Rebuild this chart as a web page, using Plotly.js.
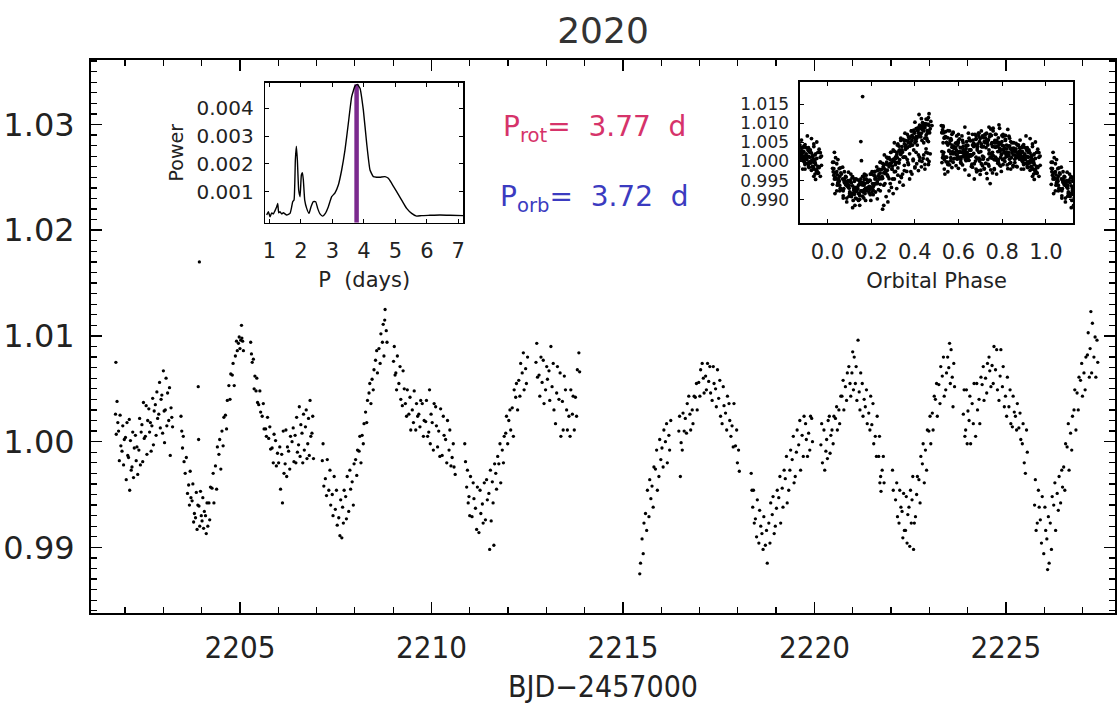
<!DOCTYPE html>
<html>
<head>
<meta charset="utf-8">
<script src="https://cdn.plot.ly/plotly-3.0.1.min.js"></script>
<style>html,body{margin:0;padding:0;background:#fff;}#chart{width:1117px;height:704px;}</style>
</head>
<body>
<div id="chart"></div>
<script>
// ---------- Light curve, before the mid-sector gap ----------
const segATime = [
2201.76,
2201.75,2201.77,2201.79,2201.81,
2201.83,2201.85,2201.87,2201.89,
2201.92,2201.94,2201.96,2201.98,
2202.01,2202.03,2202.05,2202.07,
2202.09,2202.11,2202.12,2202.14,2202.16,
2202.18,2202.20,2202.22,2202.24,
2202.27,2202.29,2202.31,2202.33,
2202.36,2202.38,2202.40,2202.42,
2202.44,2202.46,2202.48,2202.50,
2202.53,2202.55,2202.57,2202.59,
2202.62,2202.64,2202.66,2202.68,
2202.70,2202.72,2202.74,2202.76,
2202.79,2202.81,2202.83,2202.85,
2202.88,2202.90,2202.92,2202.94,
2202.96,2202.98,2203.00,2203.02,2203.03,
2203.05,2203.07,2203.09,2203.11,
2203.14,2203.16,2203.18,2203.20,
2203.22,2203.24,
2203.46,2203.48,
2203.50,2203.52,2203.54,
2203.57,2203.60,2203.63,
2203.66,2203.68,2203.70,2203.72,
2203.75,2203.77,2203.79,2203.81,
2203.84,2203.86,2203.88,2203.90,2203.91,2203.92,2203.94,
2203.93,2203.95,2203.97,2203.99,
2204.01,2204.03,2204.05,2204.07,
2204.10,2204.12,2204.14,2204.16,
2204.19,2204.21,2204.23,
2204.27,2204.30,2204.32,
2204.36,2204.39,2204.41,
2204.45,2204.47,2204.50,
2204.53,2204.56,2204.58,
2204.62,2204.65,2204.67,
2204.71,2204.74,2204.76,
2204.80,2204.82,2204.85,
2204.88,2204.91,2204.93,
2204.96,2204.98,2205.00,2205.02,
2205.04,2205.05,2205.07,2205.09,
2205.28,2205.30,2205.32,
2205.35,2205.37,2205.39,
2205.42,2205.44,2205.46,
2205.49,2205.52,2205.54,
2205.58,2205.61,2205.63,
2205.67,2205.69,2205.72,
2205.75,2205.78,2205.80,
2205.84,2205.87,2205.89,
2205.93,2205.95,2205.98,
2206.01,2206.04,2206.06,
2206.09,2206.11,2206.13,2206.15,
2206.18,2206.20,2206.22,2206.24,
2206.27,2206.30,2206.32,
2206.36,2206.39,2206.41,
2206.44,2206.46,2206.48,2206.50,
2206.53,2206.55,2206.57,2206.59,
2206.62,2206.64,2206.66,2206.68,
2206.71,2206.73,2206.75,2206.77,
2206.79,2206.81,2206.83,2206.85,
2206.88,2206.90,2206.92,
2207.15,2207.17,2207.19,
2207.23,2207.26,2207.28,
2207.32,2207.35,2207.37,
2207.41,2207.43,2207.46,
2207.49,2207.52,2207.54,
2207.58,2207.61,2207.63,
2207.66,2207.68,2207.70,2207.72,
2207.76,2207.78,2207.80,
2207.84,2207.87,2207.89,
2207.93,2207.96,2207.98,
2208.02,2208.05,2208.07,
2208.11,2208.13,2208.16,
2208.19,2208.22,2208.24,
2208.28,2208.31,2208.33,
2208.37,2208.39,2208.42,
2208.45,2208.48,2208.50,
2208.54,2208.57,2208.59,
2208.63,2208.66,2208.68,
2208.72,2208.74,2208.76,
2208.78,2208.79,
2208.82,2208.84,
2209.01,2209.03,2209.05,
2209.07,2209.09,2209.11,
2209.15,2209.18,2209.20,
2209.24,2209.26,2209.29,
2209.32,2209.35,2209.37,
2209.41,2209.44,2209.46,
2209.50,2209.53,2209.55,
2209.59,2209.61,2209.64,
2209.67,2209.70,2209.72,
2209.76,2209.79,2209.81,
2209.85,2209.87,2209.90,
2209.93,2209.95,2209.97,2209.99,
2210.02,2210.05,2210.07,
2210.11,2210.13,2210.16,
2210.19,2210.22,2210.24,
2210.28,2210.31,2210.33,
2210.37,2210.40,2210.42,
2210.46,2210.48,2210.51,
2210.54,2210.57,2210.59,
2210.62,
2210.87,2210.89,
2210.92,2210.94,2210.96,
2210.98,2211.00,2211.02,
2211.06,2211.09,2211.11,
2211.15,2211.18,2211.20,
2211.24,2211.27,2211.29,
2211.33,2211.35,2211.38,
2211.41,2211.44,2211.46,
2211.50,2211.52,2211.54,2211.56,
2211.59,2211.61,2211.63,2211.65,
2211.68,2211.70,2211.73,
2211.76,2211.79,2211.81,
2211.85,2211.88,2211.90,
2211.94,2211.96,2211.99,
2212.02,2212.05,2212.07,
2212.11,2212.14,2212.16,
2212.20,2212.22,2212.25,
2212.28,2212.31,2212.33,
2212.37,2212.40,2212.42,
2212.46,2212.48,2212.51,
2212.73,2212.75,2212.77,
2212.81,2212.83,2212.86,
2212.89,2212.92,2212.94,
2212.98,2213.01,2213.03,
2213.07,2213.09,2213.12,
2213.15,2213.18,2213.20,
2213.24,2213.27,2213.29,
2213.33,2213.36,2213.38,
2213.42,2213.44,2213.47,
2213.50,2213.53,2213.55,
2213.59,2213.62,2213.64,
2213.68,2213.70,2213.73,
2213.76,2213.79,2213.81,
2213.85,2213.87
];
const segAFlux = [
1.0075,
1.0026,1.0007,1.0038,1.0018,
1.0010,0.9982,1.0025,0.9996,
0.9991,1.0015,0.9978,1.0002,
1.0004,0.9964,1.0018,0.9987,
0.9985,1.0021,0.9954,1.0001,0.9973,
0.9976,1.0009,0.9966,0.9994,
1.0006,0.9982,0.9995,0.9969,
0.9992,1.0022,0.9978,1.0009,
1.0016,0.9981,1.0037,1.0003,
1.0005,1.0034,0.9988,1.0020,
1.0031,1.0009,1.0018,0.9991,
1.0015,1.0041,0.9997,1.0029,
1.0035,1.0006,1.0047,1.0022,
1.0026,1.0056,1.0013,1.0040,
1.0044,1.0008,1.0067,1.0029,0.9999,
1.0030,1.0060,1.0015,1.0046,
1.0020,1.0051,0.9987,1.0032,
1.0023,1.0014,
1.0024,1.0010,
0.9994,1.0005,0.9981,
0.9970,0.9985,0.9951,
0.9959,0.9940,0.9972,0.9947,
0.9944,0.9960,0.9924,0.9932,
0.9928,0.9952,0.9917,0.9940,1.0052,1.0002,1.0170,
0.9939,0.9920,0.9953,0.9930,
0.9925,0.9947,0.9918,0.9934,
0.9930,0.9913,0.9942,0.9920,
0.9942,0.9926,0.9957,
0.9956,0.9970,0.9942,
0.9977,0.9955,0.9995,
0.9988,1.0002,0.9974,
1.0010,0.9996,1.0023,
1.0025,1.0012,1.0039,
1.0053,1.0040,1.0064,
1.0063,1.0074,1.0053,
1.0081,1.0095,1.0086,
1.0093,1.0099,1.0088,1.0096,
1.0110,1.0098,1.0095,1.0086,
1.0094,1.0083,1.0075,
1.0078,1.0050,1.0062,
1.0048,1.0060,1.0037,
1.0035,1.0048,1.0028,
1.0024,1.0036,1.0012,
1.0012,1.0005,1.0023,
1.0003,1.0014,0.9993,
0.9994,0.9980,1.0007,
1.0001,0.9977,0.9989,
0.9980,0.9995,0.9955,
0.9988,0.9942,1.0010,0.9970,
0.9979,1.0011,0.9967,0.9995,
0.9991,0.9974,1.0005,
1.0000,1.0013,0.9981,
1.0006,0.9980,1.0023,0.9990,
0.9997,1.0033,0.9986,1.0016,
1.0008,0.9980,1.0026,0.9992,
1.0014,1.0030,0.9984,0.9998,
1.0022,0.9987,1.0039,1.0005,
1.0008,1.0024,0.9984,
0.9982,0.9998,0.9958,
0.9965,0.9949,0.9983,
0.9954,0.9973,0.9940,
0.9950,0.9930,0.9967,
0.9936,0.9954,0.9921,
0.9928,0.9911,0.9945,
0.9909,0.9938,0.9923,0.9954,
0.9948,0.9927,0.9967,
0.9934,0.9973,0.9955,
0.9962,0.9940,0.9979,
0.9983,0.9968,0.9992,
0.9991,1.0005,0.9980,
1.0006,0.9998,1.0017,
1.0028,1.0018,1.0039,
1.0046,1.0055,1.0036,
1.0059,1.0049,1.0068,
1.0077,1.0086,1.0065,
1.0088,1.0074,1.0102,
1.0094,1.0111,1.0081,
1.0115,1.0125,
1.0105,1.0094,
1.0076,1.0090,1.0063,
1.0065,1.0049,1.0081,
1.0055,1.0071,1.0040,
1.0034,1.0067,1.0050,
1.0036,1.0024,1.0049,
1.0026,1.0042,1.0011,
1.0030,1.0018,1.0048,
1.0011,1.0036,1.0024,
1.0026,1.0014,1.0039,
1.0036,1.0005,1.0020,
1.0019,1.0039,1.0005,
1.0009,1.0049,0.9998,1.0026,
1.0018,0.9992,1.0036,
1.0033,1.0015,0.9995,
1.0010,0.9986,1.0031,
0.9987,1.0024,1.0006,
1.0002,0.9980,1.0020,
0.9992,1.0011,0.9977,
0.9985,0.9998,0.9976,
0.9969,
0.9998,0.9981,
0.9957,0.9973,0.9942,
0.9948,0.9930,0.9967,
0.9929,0.9961,0.9946,
0.9937,0.9917,0.9957,
0.9914,0.9954,0.9932,
0.9941,0.9923,0.9961,
0.9926,0.9964,0.9945,
0.9951,0.9898,0.9973,0.9925,
0.9962,0.9942,0.9902,0.9979,
0.9970,0.9955,0.9986,
0.9979,0.9998,0.9961,
0.9992,0.9980,1.0005,
1.0008,1.0024,0.9998,
1.0020,1.0030,1.0011,
1.0032,1.0005,1.0049,
1.0042,1.0055,1.0030,
1.0058,1.0043,1.0074,
1.0065,1.0084,1.0049,
1.0069,1.0055,1.0080,
1.0075,1.0093,1.0061,
1.0063,1.0043,1.0080,
1.0056,1.0077,1.0036,
1.0049,1.0071,1.0059,
1.0067,1.0039,1.0090,
1.0052,1.0074,1.0030,
1.0017,1.0046,1.0071,
1.0040,1.0065,1.0005,
1.0038,1.0011,1.0062,
1.0049,1.0030,1.0011,
1.0024,1.0005,1.0049,
1.0026,1.0043,1.0011,
1.0042,1.0024,1.0068,
1.0084,1.0066
];
// ---------- Light curve, after the mid-sector gap ----------
const segBTime = [
2215.44,2215.46,
2215.50,2215.53,2215.55,
2215.59,2215.62,2215.64,
2215.68,2215.70,2215.73,
2215.76,2215.79,2215.81,
2215.85,2215.88,2215.90,
2215.94,2215.96,2215.99,
2216.02,2216.05,2216.07,
2216.11,2216.14,2216.16,
2216.20,2216.22,2216.25,
2216.46,2216.48,2216.50,2216.52,
2216.55,2216.57,2216.60,
2216.63,2216.66,2216.68,
2216.72,2216.75,2216.77,
2216.81,2216.83,2216.86,
2216.89,2216.92,2216.94,
2216.98,2217.01,2217.03,
2217.07,2217.10,2217.12,
2217.16,2217.18,2217.21,
2217.24,2217.27,2217.29,
2217.33,2217.36,2217.38,
2217.42,2217.44,2217.47,
2217.50,2217.53,2217.55,
2217.59,2217.62,2217.64,
2217.68,2217.71,2217.73,
2217.77,2217.79,2217.82,
2217.85,2217.88,2217.90,
2217.94,2217.97,2217.99,
2218.02,2218.04,
2218.35,2218.37,
2218.39,2218.41,2218.43,
2218.46,2218.49,2218.51,
2218.55,2218.57,2218.60,
2218.63,2218.66,2218.68,
2218.72,2218.75,2218.77,
2218.81,2218.84,2218.86,
2218.90,2218.92,2218.95,
2218.98,2219.01,2219.03,
2219.07,2219.10,2219.12,
2219.16,2219.18,2219.21,
2219.24,2219.27,2219.29,
2219.33,2219.36,2219.38,
2219.42,2219.45,2219.47,
2219.50,2219.53,2219.55,
2219.59,2219.62,2219.64,
2219.68,2219.71,2219.73,
2219.77,2219.79,2219.82,
2219.85,2219.88,2219.90,
2219.93,2219.95,
2220.17,2220.19,2220.21,
2220.25,2220.27,2220.30,
2220.32,2220.34,2220.36,
2220.39,2220.41,2220.43,
2220.46,2220.49,2220.51,
2220.55,2220.58,2220.60,
2220.64,2220.66,2220.69,
2220.72,2220.75,2220.77,
2220.81,2220.84,2220.86,
2220.90,2220.93,2220.95,
2220.98,2221.00,2221.02,2221.04,
2221.07,2221.09,2221.11,
2221.14,
2221.17,2221.19,2221.21,
2221.25,2221.27,2221.30,
2221.33,2221.36,2221.38,
2221.42,2221.45,2221.47,
2221.50,2221.53,2221.55,
2221.59,2221.62,2221.64,
2221.68,2221.70,2221.71,2221.73,2221.74,
2221.77,2221.80,2221.82,
2222.04,2222.06,
2222.12,2222.15,2222.17,
2222.21,2222.23,2222.26,
2222.29,2222.31,2222.33,2222.35,
2222.38,2222.40,2222.42,2222.44,
2222.47,2222.49,2222.51,2222.53,
2222.55,2222.57,2222.59,2222.61,
2222.64,2222.67,2222.69,
2222.73,2222.76,2222.78,
2222.82,2222.84,2222.87,
2222.90,2222.93,2222.95,
2222.99,2223.02,2223.04,
2223.08,2223.10,2223.13,
2223.16,2223.19,2223.21,
2223.25,2223.28,2223.30,
2223.34,2223.37,2223.39,
2223.43,2223.45,2223.48,
2223.51,2223.53,2223.55,2223.57,
2223.60,2223.62,2223.64,2223.66,
2223.89,2223.91,2223.93,
2223.95,2223.97,2223.99,2224.01,
2224.04,2224.06,2224.08,
2224.12,2224.15,2224.17,
2224.21,2224.24,2224.26,
2224.30,2224.32,2224.35,
2224.38,2224.41,2224.43,
2224.47,2224.50,2224.52,
2224.56,2224.58,2224.61,
2224.64,2224.67,2224.69,
2224.73,2224.76,2224.78,
2224.82,2224.85,2224.87,
2224.91,2224.93,2224.96,
2224.99,2225.02,2225.04,
2225.08,2225.11,2225.13,
2225.17,2225.19,2225.22,
2225.25,2225.28,2225.30,
2225.34,2225.37,2225.39,
2225.43,2225.45,2225.48,
2225.51,2225.54,2225.56,
2225.75,2225.77,2225.79,
2225.82,2225.85,2225.87,
2225.90,2225.93,2225.95,
2225.99,2226.02,2226.04,
2226.07,2226.09,2226.11,2226.13,
2226.16,2226.19,2226.21,
2226.25,2226.28,2226.30,
2226.34,2226.37,2226.39,
2226.43,2226.46,2226.48,
2226.51,2226.54,2226.56,
2226.60,2226.63,2226.65,
2226.69,2226.72,2226.74,
2226.78,2226.80,2226.83,
2226.86,2226.89,2226.91,
2226.95,2226.98,2227.00,
2227.04,2227.07,2227.09,
2227.13,2227.15,2227.18,
2227.20,2227.22,2227.24,2227.26,
2227.30,2227.33,2227.35,
2227.38,2227.40
];
const segBFlux = [
0.9875,0.9885,
0.9908,0.9894,0.9923,
0.9932,0.9916,0.9954,
0.9929,0.9964,0.9946,
0.9958,0.9938,0.9976,
0.9974,0.9992,0.9954,
0.9967,1.0002,0.9983,
0.9994,0.9976,1.0011,
1.0000,1.0017,0.9980,
1.0006,0.9992,1.0020,
1.0010,1.0024,0.9967,0.9999,
0.9992,1.0027,1.0010,
1.0022,1.0008,1.0036,
1.0043,1.0026,1.0011,
1.0030,1.0017,1.0043,
1.0042,1.0055,1.0030,
1.0056,1.0043,1.0068,
1.0074,1.0060,1.0046,
1.0062,1.0049,1.0074,
1.0057,1.0071,1.0046,
1.0039,1.0071,1.0055,
1.0050,1.0033,1.0068,
1.0041,1.0058,1.0024,
1.0017,1.0052,1.0034,
1.0027,1.0011,1.0043,
1.0036,1.0020,1.0005,
1.0015,0.9995,1.0036,
0.9996,1.0011,0.9980,
0.9992,0.9972,
0.9970,0.9954,
0.9938,0.9954,0.9923,
0.9927,0.9910,0.9945,
0.9904,0.9935,0.9920,
0.9913,0.9898,0.9929,
0.9902,0.9916,0.9885,
0.9923,0.9904,0.9942,
0.9931,0.9948,0.9913,
0.9920,0.9937,0.9954,
0.9947,0.9967,0.9923,
0.9956,0.9938,0.9973,
0.9965,0.9986,0.9942,
0.9954,0.9973,0.9992,
0.9983,1.0005,0.9961,
0.9967,0.9990,1.0011,
0.9997,1.0020,0.9973,
1.0006,0.9986,1.0024,
1.0017,1.0002,0.9986,
1.0008,0.9992,1.0024,
1.0022,1.0000,
0.9997,1.0017,0.9980,
1.0011,0.9973,0.9991,
1.0002,0.9984,1.0020,
1.0024,0.9989,1.0006,
1.0011,0.9998,1.0024,
1.0022,1.0033,1.0011,
1.0030,1.0017,1.0043,
1.0043,1.0058,1.0030,
1.0052,1.0039,1.0065,
1.0071,1.0055,1.0043,
1.0065,1.0085,1.0049,1.0080,
1.0055,1.0071,1.0039,
1.0096,
1.0047,1.0030,1.0065,
1.0055,1.0024,1.0040,
1.0033,1.0049,1.0017,
1.0027,1.0011,1.0043,
1.0016,1.0036,0.9998,
1.0005,0.9986,1.0024,
0.9986,1.0005,0.9961,0.9967,0.9953,
0.9973,0.9986,0.9961,
0.9973,0.9954,
0.9945,0.9961,0.9929,
0.9923,0.9954,0.9938,
0.9934,0.9909,0.9951,0.9916,
0.9916,0.9948,0.9904,0.9931,
0.9938,0.9901,0.9954,0.9923,
0.9945,0.9967,0.9898,0.9923,
0.9929,0.9950,0.9967,
0.9964,0.9942,0.9986,
0.9979,0.9998,0.9961,
0.9992,0.9973,1.0011,
1.0010,1.0024,0.9998,
1.0027,1.0011,1.0043,
1.0040,1.0055,1.0024,
1.0054,1.0036,1.0071,
1.0062,1.0080,1.0043,
1.0049,1.0065,1.0080,
1.0070,1.0093,1.0055,1.0087,
1.0061,1.0033,1.0074,1.0052,
1.0026,1.0049,1.0005,
1.0011,1.0049,0.9998,1.0029,
1.0020,1.0043,0.9998,
1.0036,1.0017,1.0055,
1.0005,1.0055,1.0030,
1.0040,1.0017,1.0061,
1.0054,1.0071,1.0039,
1.0060,1.0046,1.0074,
1.0080,1.0067,1.0052,
1.0072,1.0055,1.0090,
1.0068,1.0087,1.0049,
1.0039,1.0062,1.0087,
1.0052,1.0071,1.0033,
1.0043,1.0024,1.0061,
1.0033,1.0049,1.0017,
1.0014,1.0043,1.0028,
1.0024,1.0011,1.0036,
1.0013,1.0027,1.0002,
0.9998,1.0017,0.9980,
0.9970,1.0011,0.9990,
0.9940,0.9964,0.9916,
0.9923,0.9954,0.9938,
0.9926,0.9904,0.9948,
0.9894,0.9938,0.9916,
0.9908,0.9879,0.9929,0.9885,
0.9923,0.9898,0.9948,
0.9940,0.9961,0.9916,
0.9951,0.9935,0.9967,
0.9942,0.9973,0.9957,
0.9976,0.9954,0.9998,
0.9995,1.0017,0.9973,
1.0008,0.9992,1.0024,
1.0030,1.0049,1.0011,
1.0046,1.0030,1.0061,
1.0058,1.0074,1.0043,
1.0065,1.0049,1.0080,
1.0082,1.0103,1.0061,
1.0088,1.0123,1.0065,1.0112,
1.0080,1.0099,1.0061,
1.0096,1.0075
];

// ---------- Periodogram (inset, left) ----------
const periodDays = [0.915,0.968,1.021,1.074,1.127,1.180,1.233,1.265,1.296,1.339,1.392,1.444,1.55,1.656,1.709,1.741,1.783,1.825,1.857,1.889,1.931,1.974,2.016,2.048,2.079,2.122,2.185,2.259,2.323,2.397,2.471,2.534,2.608,2.693,2.778,2.873,2.979,3.085,3.19,3.296,3.402,3.508,3.614,3.72,3.794,3.878,3.984,4.09,4.196,4.302,4.407,4.513,4.672,4.778,4.884,5.042,5.201,5.36,5.519,5.677,5.836,6.1,6.418,6.735,7.159];
const periodPower = [0.00016,0.00028,0.0001,0.00024,0.0002,0.00032,0.00046,0.00058,0.00024,0.00028,0.0002,0.00024,0.00016,0.00022,0.00046,0.00064,0.0007,0.00214,0.00264,0.00214,0.00106,0.00082,0.0016,0.00168,0.00142,0.0007,0.0004,0.00022,0.00046,0.00064,0.00064,0.0004,0.0002,0.00012,0.00022,0.00046,0.00082,0.00096,0.00124,0.00178,0.0025,0.00346,0.00442,0.0048,0.00486,0.00472,0.00394,0.00274,0.00178,0.00154,0.00152,0.00152,0.00154,0.00148,0.0013,0.001,0.0007,0.0004,0.00022,0.00012,0.00014,0.00015,0.00016,0.00015,0.00014];
const peakPower = 0.00486;

// ---------- Periods / ephemeris ----------
const pRot = 3.77;
const pOrb = 3.72;
const epoch0 = 2203.34;

// ---------- Tick labels ----------
const mainXTicks = [2205, 2210, 2215, 2220, 2225];
const mainYTicks = [0.99, 1.00, 1.01, 1.02, 1.03];
const perXTicks = [1, 2, 3, 4, 5, 6, 7];
const perYTicks = [0.001, 0.002, 0.003, 0.004];
const phaseXTicks = [0.0, 0.2, 0.4, 0.6, 0.8, 1.0];
const phaseYTicks = [0.990, 0.995, 1.000, 1.005, 1.010, 1.015];

// ---------- Build traces ----------
const lcTime = segATime.concat(segBTime);
const lcFlux = segAFlux.concat(segBFlux);

// phase-fold the light curve on the orbital period (with wrap-around copies)
const phaseX = [], phaseY = [];
for (let i = 0; i < lcTime.length; i++) {
  let ph = ((lcTime[i] - epoch0) / pOrb) % 1;
  if (ph < 0) ph += 1;
  phaseX.push(ph); phaseY.push(lcFlux[i]);
  if (ph > 0.8) { phaseX.push(ph - 1); phaseY.push(lcFlux[i]); }
  if (ph < 0.2) { phaseX.push(ph + 1); phaseY.push(lcFlux[i]); }
}

const perYRange = [-0.000115, 0.00492];

const traces = [
  {type:'scatter', mode:'markers', x:lcTime, y:lcFlux, xaxis:'x', yaxis:'y',
   marker:{size:3.3, color:'#000'}, hoverinfo:'skip', name:'light curve'},
  {type:'scatter', mode:'lines', x:[pRot, pRot], y:[perYRange[0], peakPower], xaxis:'x2', yaxis:'y2',
   line:{color:'#7b2a8e', width:4.5}, hoverinfo:'skip', name:'Prot'},
  {type:'scatter', mode:'lines', x:periodDays, y:periodPower, xaxis:'x2', yaxis:'y2',
   line:{color:'#000', width:1.4, shape:'spline', smoothing:0.4}, hoverinfo:'skip', name:'periodogram'},
  {type:'scatter', mode:'markers', x:phaseX, y:phaseY, xaxis:'x3', yaxis:'y3',
   marker:{size:3.8, color:'#000'}, hoverinfo:'skip', name:'folded'}
];

const narrow = '"Liberation Sans Narrow", "DejaVu Sans Condensed", "Arial Narrow", sans-serif';
const round = '"DejaVu Sans", "Noto Sans", sans-serif';

function frame(extra) {
  return Object.assign({
    showline:true, linewidth:1.6, linecolor:'#000', mirror:'allticks',
    ticks:'inside', tickcolor:'#000', tickwidth:1, ticklen:4,
    showgrid:false, zeroline:false, automargin:false,
    tickfont:{family:round, size:20, color:'#222'}
  }, extra);
}

const layout = {
  width:1117, height:704,
  margin:{l:91, r:2, t:60, b:91},
  paper_bgcolor:'#fff', plot_bgcolor:'rgba(0,0,0,0)',
  showlegend:false,
  font:{family:round, color:'#222'},
  title:{text:'2020', font:{family:round, size:36, color:'#333'}, x:0.5, xref:'paper', xanchor:'center',
         y:1 - 30/704, yref:'container', yanchor:'middle'},
  xaxis:{
    range:[2201.11, 2227.85], tickmode:'array', tickvals:mainXTicks, ticktext:mainXTicks.map(String),
    ticks:'inside', ticklen:11, tickwidth:1.5, tickcolor:'#000',
    minor:{dtick:1, tick0:2200, ticks:'inside', ticklen:6, tickwidth:1.2, tickcolor:'#000', showgrid:false},
    showline:true, linewidth:2, linecolor:'#000', mirror:'allticks', showgrid:false, zeroline:false,
    tickfont:{family:narrow, size:31, color:'#222'}, ticklabelstandoff:6, automargin:false,
    title:{text:'BJD\u22122457000', font:{family:narrow, size:30, color:'#222'}, standoff:30}
  },
  yaxis:{
    range:[0.98379, 1.0361], tickmode:'array', tickvals:mainYTicks, ticktext:mainYTicks.map(v=>v.toFixed(2)),
    ticks:'inside', ticklen:11, tickwidth:1.5, tickcolor:'#000',
    minor:{dtick:0.001, tick0:1, ticks:'inside', ticklen:6, tickwidth:1.2, tickcolor:'#000', showgrid:false},
    showline:true, linewidth:2, linecolor:'#000', mirror:'allticks', showgrid:false, zeroline:false,
    tickfont:{family:round, size:32, color:'#222'}, ticklabelstandoff:8, automargin:false
  },
  xaxis2: frame({domain:[0.1702, 0.3633], anchor:'y2', range:[0.87, 7.15],
    tickmode:'array', tickvals:perXTicks, ticktext:perXTicks.map(String), ticklabelstandoff:9,
    tickfont:{family:round, size:21, color:'#222'},
    title:{text:'P  (days)', font:{family:round, size:21, color:'#222'}, standoff:10}}),
  yaxis2: frame({domain:[0.7058, 0.9590], anchor:'x2', range:perYRange,
    tickmode:'array', tickvals:perYTicks, ticktext:perYTicks.map(v=>v.toFixed(3)), ticklabelstandoff:6,
    tickfont:{family:round, size:20, color:'#222'},
    title:{text:'Power', font:{family:round, size:19, color:'#222'}, standoff:8}}),
  xaxis3: frame({domain:[0.6924, 0.9593], anchor:'y3', range:[-0.125, 1.125],
    tickmode:'array', tickvals:phaseXTicks, ticktext:phaseXTicks.map(v=>v.toFixed(1)), ticklabelstandoff:9,
    tickfont:{family:round, size:21, color:'#222'},
    title:{text:'Orbital Phase', font:{family:round, size:21, color:'#222'}, standoff:10}}),
  yaxis3: frame({domain:[0.7047, 0.9608], anchor:'x3', range:[0.9838, 1.0209],
    tickmode:'array', tickvals:phaseYTicks, ticktext:phaseYTicks.map(v=>v.toFixed(3)), ticklabelstandoff:6,
    tickfont:{family:round, size:17, color:'#222'}}),
  annotations:[
    {text:'P<sub>rot</sub>=  3.77  d', xref:'paper', yref:'paper', x:0.492, y:0.877, xanchor:'center', yanchor:'middle',
     showarrow:false, font:{family:round, size:28, color:'#d6336a'}},
    {text:'P<sub>orb</sub>=  3.72  d', xref:'paper', yref:'paper', x:0.492, y:0.750, xanchor:'center', yanchor:'middle',
     showarrow:false, font:{family:round, size:28, color:'#3b3bc0'}}
  ]
};

Plotly.newPlot('chart', traces, layout, {staticPlot:true, displayModeBar:false});
</script>
</body>
</html>
